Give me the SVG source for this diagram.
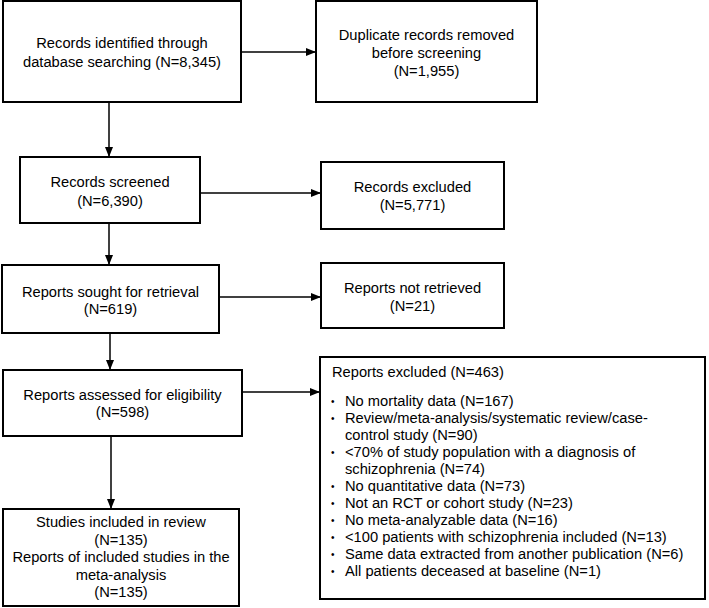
<svg xmlns="http://www.w3.org/2000/svg" width="709" height="608" viewBox="0 0 709 608">
<style>
.box{fill:#fff;stroke:#000;stroke-width:2}
text{font-family:"Liberation Sans",Arial,sans-serif;font-size:14.7px;fill:#000}
.c{text-anchor:middle}
.b{font-size:10px}
.con line{stroke:#000;stroke-width:1.5}
</style>
<defs>
<marker id="ah" markerWidth="10" markerHeight="8" refX="10" refY="4" orient="auto" markerUnits="userSpaceOnUse">
<path d="M0,0 L10,4 L0,8 Z" fill="#000"/>
</marker>
</defs>
<rect width="709" height="608" fill="#fff"/>
<g id="connectors" class="con">
<line x1="241" y1="52" x2="316" y2="52" marker-end="url(#ah)"/>
<line x1="109" y1="102" x2="109" y2="157" marker-end="url(#ah)"/>
<line x1="200" y1="193" x2="321" y2="193" marker-end="url(#ah)"/>
<line x1="109" y1="223" x2="109" y2="265" marker-end="url(#ah)"/>
<line x1="219" y1="297" x2="321" y2="297" marker-end="url(#ah)"/>
<line x1="110" y1="333" x2="110" y2="370" marker-end="url(#ah)"/>
<line x1="242" y1="392" x2="320" y2="392" marker-end="url(#ah)"/>
<line x1="111" y1="436" x2="111" y2="509" marker-end="url(#ah)"/>
</g>
<g id="identified">
<rect class="box" x="3" y="1" width="238" height="101"/>
<text class="c" x="122" y="48">Records identified through</text>
<text class="c" x="122" y="67">database searching (N=8,345)</text>
</g>
<g id="duplicates">
<rect class="box" x="316" y="1" width="221" height="101"/>
<text class="c" x="426.5" y="40">Duplicate records removed</text>
<text class="c" x="426.5" y="58">before screening</text>
<text class="c" x="426.5" y="76">(N=1,955)</text>
</g>
<g id="screened">
<rect class="box" x="20" y="157" width="180" height="66"/>
<text class="c" x="110" y="187">Records screened</text>
<text class="c" x="110" y="206">(N=6,390)</text>
</g>
<g id="excluded">
<rect class="box" x="321" y="162" width="183" height="67"/>
<text class="c" x="412.5" y="192">Records excluded</text>
<text class="c" x="412.5" y="210">(N=5,771)</text>
</g>
<g id="sought">
<rect class="box" x="2" y="265" width="217" height="68"/>
<text class="c" x="110.5" y="297">Reports sought for retrieval</text>
<text class="c" x="110.5" y="314">(N=619)</text>
</g>
<g id="notretrieved">
<rect class="box" x="321" y="263" width="183" height="65"/>
<text class="c" x="412.5" y="293">Reports not retrieved</text>
<text class="c" x="412.5" y="311">(N=21)</text>
</g>
<g id="assessed">
<rect class="box" x="3" y="370" width="239" height="66"/>
<text class="c" x="122.5" y="400">Reports assessed for eligibility</text>
<text class="c" x="122.5" y="417">(N=598)</text>
</g>
<g id="included">
<rect class="box" x="3" y="509" width="236" height="97"/>
<text class="c" x="121" y="527">Studies included in review</text>
<text class="c" x="121" y="545">(N=135)</text>
<text class="c" x="121" y="562">Reports of included studies in the</text>
<text class="c" x="121" y="580">meta-analysis</text>
<text class="c" x="121" y="597">(N=135)</text>
</g>
<g id="reportsexcluded">
<rect class="box" x="320" y="357" width="385" height="242"/>
<text x="332" y="377">Reports excluded (N=463)</text>
<text class="b" x="331" y="405">•</text><text x="345" y="406">No mortality data (N=167)</text>
<text class="b" x="331" y="422">•</text><text x="345" y="423">Review/meta-analysis/systematic review/case-</text>
<text x="345" y="440">control study (N=90)</text>
<text class="b" x="331" y="456">•</text><text x="345" y="457">&lt;70% of study population with a diagnosis of</text>
<text x="345" y="474">schizophrenia (N=74)</text>
<text class="b" x="331" y="490">•</text><text x="345" y="491">No quantitative data (N=73)</text>
<text class="b" x="331" y="507">•</text><text x="345" y="508">Not an RCT or cohort study (N=23)</text>
<text class="b" x="331" y="524">•</text><text x="345" y="525">No meta-analyzable data (N=16)</text>
<text class="b" x="331" y="541">•</text><text x="345" y="542">&lt;100 patients with schizophrenia included (N=13)</text>
<text class="b" x="331" y="558">•</text><text x="345" y="559">Same data extracted from another publication (N=6)</text>
<text class="b" x="331" y="575">•</text><text x="345" y="576">All patients deceased at baseline (N=1)</text>
</g>
</svg>
